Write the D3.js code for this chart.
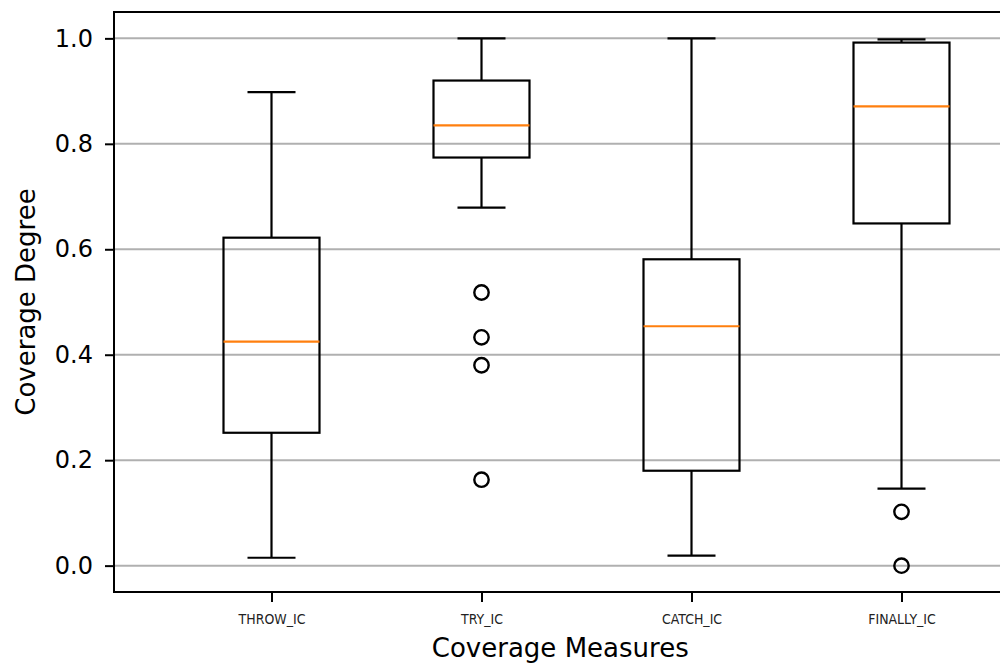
<!DOCTYPE html>
<html><head><meta charset="utf-8">
<script src="https://cdn.jsdelivr.net/npm/d3@7"></script>
<style>body{margin:0;background:#fff;}svg{display:block;font-family:"DejaVu Sans",sans-serif;}</style>
</head><body>
<svg id="c" width="1000" height="664"></svg>
<script>
const categories = ["THROW_IC","TRY_IC","CATCH_IC","FINALLY_IC"];
const whiskerLow  = [0.015, 0.679, 0.019, 0.146];
const q1          = [0.252, 0.774, 0.180, 0.649];
const median      = [0.425, 0.835, 0.454, 0.871];
const q3          = [0.622, 0.920, 0.581, 0.992];
const whiskerHigh = [0.898, 1.000, 1.000, 0.998];
const outliers    = [[], [0.518, 0.433, 0.380, 0.163], [], [0.102, 0.0]];
const yTicks = [0.0, 0.2, 0.4, 0.6, 0.8, 1.0];

const svg = d3.select("#c");
const L = 114, R = 1006.5, T = 12, B = 592;
const x = d3.scaleLinear().domain([0.25, 4.5]).range([L, R]);
const y = d3.scaleLinear().domain([-0.05, 1.05]).range([B, T]);
const boxW = 96 / 210, capW = boxW / 2;

// grid
svg.append("g").selectAll("line").data(yTicks).join("line")
  .attr("x1", L).attr("x2", R).attr("y1", d => y(d)).attr("y2", d => y(d))
  .attr("stroke", "#b0b0b0").attr("stroke-width", 2);

// y axis
const ya = svg.append("g").attr("transform", `translate(${L},0)`)
  .call(d3.axisLeft(y).tickValues(yTicks).tickFormat(d3.format(".1f")).tickSize(9).tickPadding(12));
ya.select(".domain").remove();
ya.selectAll(".tick line").attr("stroke", "#000").attr("stroke-width", 2);
ya.selectAll(".tick text").attr("font-size", 24).attr("fill", "#000").attr("font-family", "DejaVu Sans");

// x axis
const xa = svg.append("g").attr("transform", `translate(0,${B})`)
  .call(d3.axisBottom(x).tickValues([1,2,3,4]).tickFormat((d,i) => categories[i]).tickSize(10).tickPadding(0));
xa.select(".domain").remove();
xa.selectAll(".tick line").attr("stroke", "#000").attr("stroke-width", 2);
xa.selectAll(".tick text").attr("font-size", 13.5).attr("fill", "#222").attr("font-family", "DejaVu Sans")
  .attr("dy", 0).attr("y", 0).attr("transform", "translate(0,27) scale(0.93,1)").attr("dominant-baseline", "central");

// boxes
const g = svg.append("g");
categories.forEach((c, i) => {
  const p = i + 1;
  const gg = g.append("g");
  gg.append("line").attr("x1", x(p)).attr("x2", x(p)).attr("y1", y(q3[i])).attr("y2", y(whiskerHigh[i])).attr("stroke", "#000").attr("stroke-width", 2.2);
  gg.append("line").attr("x1", x(p)).attr("x2", x(p)).attr("y1", y(q1[i])).attr("y2", y(whiskerLow[i])).attr("stroke", "#000").attr("stroke-width", 2.2);
  [whiskerHigh[i], whiskerLow[i]].forEach(v => {
    gg.append("line").attr("x1", x(p - capW/2)).attr("x2", x(p + capW/2)).attr("y1", y(v)).attr("y2", y(v)).attr("stroke", "#000").attr("stroke-width", 2.2);
  });
  gg.append("rect").attr("x", x(p - boxW/2)).attr("width", x(p + boxW/2) - x(p - boxW/2))
    .attr("y", y(q3[i])).attr("height", y(q1[i]) - y(q3[i]))
    .attr("fill", "none").attr("stroke", "#000").attr("stroke-width", 2.2);
  gg.append("line").attr("x1", x(p - boxW/2)).attr("x2", x(p + boxW/2)).attr("y1", y(median[i])).attr("y2", y(median[i]))
    .attr("stroke", "#ff7f0e").attr("stroke-width", 2.2);
  gg.selectAll("circle").data(outliers[i]).join("circle")
    .attr("cx", x(p)).attr("cy", d => y(d)).attr("r", 7.2)
    .attr("fill", "none").attr("stroke", "#000").attr("stroke-width", 2.4);
});

// spines
svg.append("rect").attr("x", L).attr("y", T).attr("width", R - L).attr("height", B - T)
  .attr("fill", "none").attr("stroke", "#000").attr("stroke-width", 2);

// labels
svg.append("text").attr("x", (L + R) / 2).attr("y", 648).attr("text-anchor", "middle").attr("dominant-baseline", "central")
  .attr("font-size", 26).attr("fill", "#000").text("Coverage Measures");
svg.append("text").attr("transform", `translate(26,${(T + B) / 2}) rotate(-90)`).attr("text-anchor", "middle").attr("dominant-baseline", "central")
  .attr("font-size", 26).attr("fill", "#000").text("Coverage Degree");
</script>
</body></html>
